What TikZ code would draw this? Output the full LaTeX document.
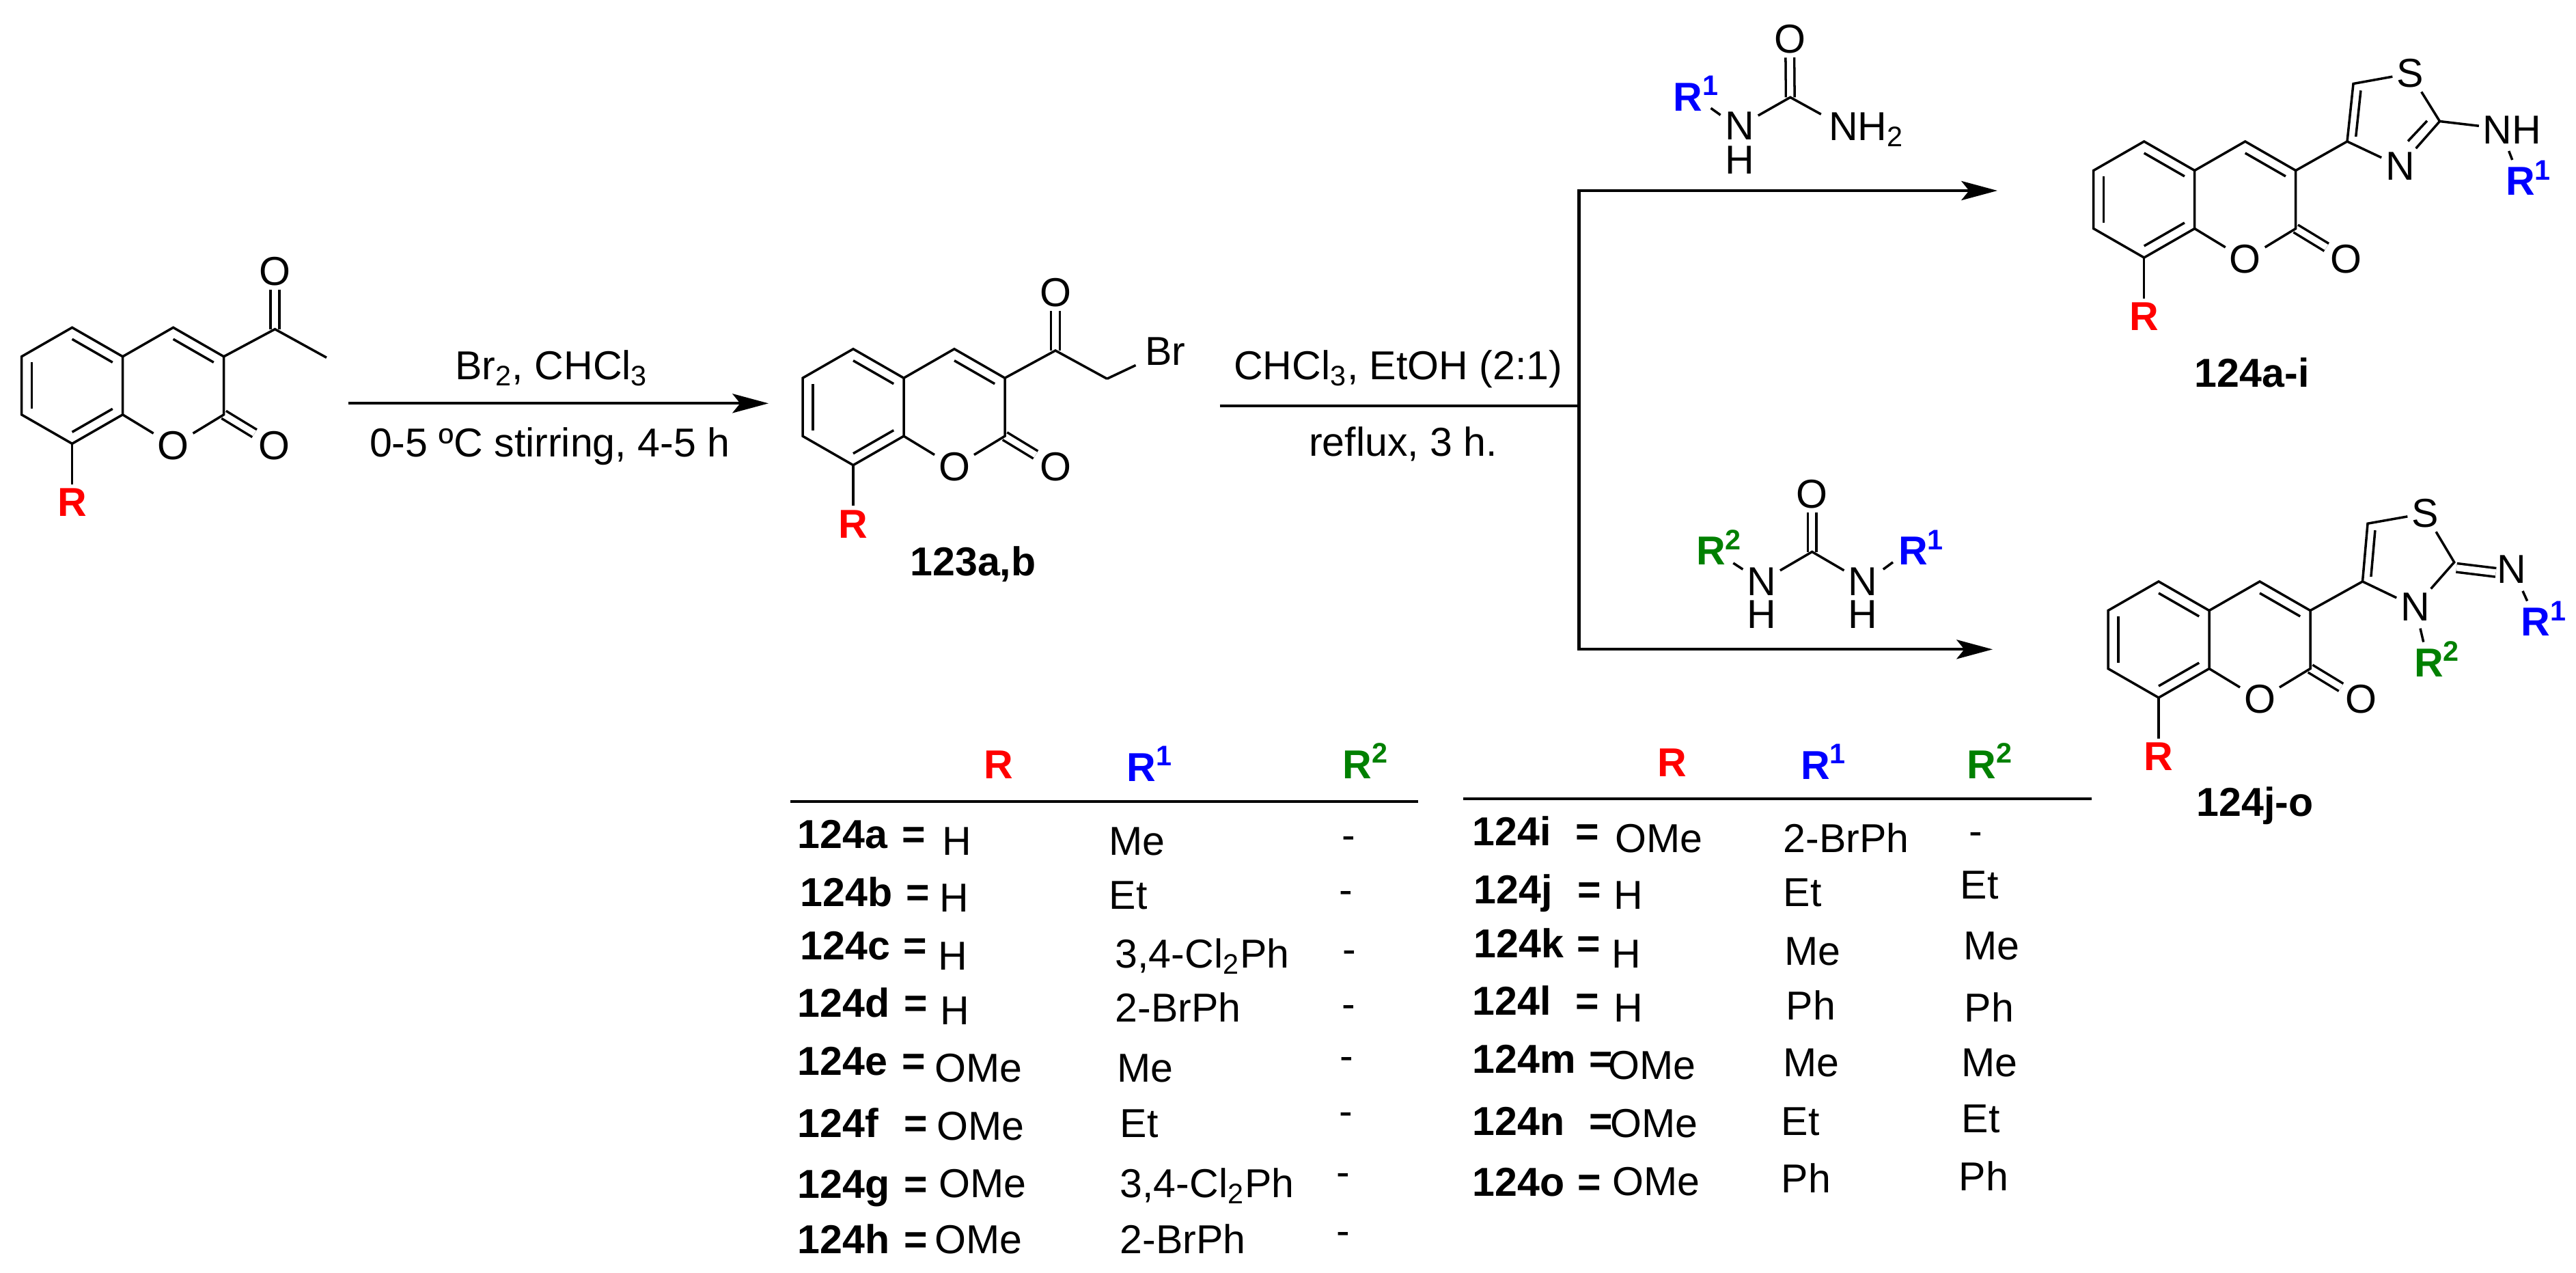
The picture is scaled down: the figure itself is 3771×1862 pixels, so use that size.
\documentclass[tikz,border=0pt]{standalone}
\usepackage{fontspec}
\setmainfont{Liberation Sans}
\usetikzlibrary{arrows.meta,calc}

\newcommand{\bigtxt}{\fontsize{16.8}{20}\selectfont}
\newcommand{\clph}{3,4-Cl\textsubscript{2}Ph}

\tikzset{
  bond/.style={line width=1pt},
  dbl/.style={line width=1pt,double,double distance=2.6pt},
  rxn/.style={line width=1.2pt},
  atom/.style={inner sep=1.5pt,font=\bigtxt},
  lbl/.style={inner sep=0pt,anchor=base,font=\bigtxt},
  tabval/.style={inner sep=0pt,anchor=base west,font=\bigtxt}
}

\newcommand{\innerbond}[3]{\draw[bond] ($(#1)!.2!(#3)$) -- ($(#2)!.2!(#3)$);}

% prefix, x, y
\newcommand{\coumarin}[3]{
  \begin{scope}[shift={(#2,#3)}]
    \coordinate (#1a) at (0,0);
    \coordinate (#1b) at (-74,42.5);
    \coordinate (#1c) at (-74,127.5);
    \coordinate (#1d) at (0,170);
    \coordinate (#1e) at (74,127.5);
    \coordinate (#1f) at (74,42.5);
    \coordinate (#1g) at (148,0);
    \coordinate (#1h) at (222,42.5);
    \coordinate (#1i) at (222,127.5);
    \coordinate (#1m) at (0,85);
    \coordinate (#1n) at (148,85);
    \node[atom] (#1O) at (148,172.5) {O};
    \node[atom] (#1P) at (296,172.5) {O};
    \node[atom,text=red] (#1R) at (0,256) {\textbf{R}};
  \end{scope}
  \draw[dbl] (#1i) -- (#1P);
  \draw[bond] (#1a) -- (#1b) -- (#1c) -- (#1d) -- (#1e) -- (#1f) -- cycle;
  \draw[bond] (#1f) -- (#1g) -- (#1h) -- (#1i) -- (#1O) -- (#1e);
  \draw[bond] (#1d) -- (#1R);
  \innerbond{#1a}{#1f}{#1m}
  \innerbond{#1b}{#1c}{#1m}
  \innerbond{#1d}{#1e}{#1m}
  \innerbond{#1g}{#1h}{#1n}
}

\begin{document}
\begin{tikzpicture}[x=0.01cm,y=-0.01cm,>={Stealth[length=15pt,width=8pt,inset=3.2pt]}]
\useasboundingbox (0,0) rectangle (3771,1862);

% starting material
\coumarin{s}{105.6}{479.3}
\coordinate (sC) at (402.5,481.7);
\coordinate (sMe) at (478,523.3);
\node[atom] (sO2) at (402.5,396.7) {O};
\draw[dbl] (sO2) -- (sC);
\draw[bond] (sh) -- (sC) -- (sMe);

% bromide
\coumarin{b}{1249}{510.7}
\coordinate (bC) at (1545,513);
\coordinate (bCH) at (1620.6,554.3);
\node[atom] (bO2) at (1545,428) {O};
\node[atom] (bBr) at (1706,514) {Br};
\draw[dbl] (bO2) -- (bC);
\draw[bond] (bh) -- (bC) -- (bCH);
\draw[bond,shorten >=2.5pt] (bCH) -- (bBr);
\node[lbl,font=\bigtxt\bfseries] (lab123) at (1424.5,842.7) {123a,b};

% arrows
\coordinate (a1s) at (509.7,590.3);
\coordinate (a1e) at (1125,590.3);
\draw[rxn,->] (a1s) -- (a1e);
\node[lbl] (c1) at (807.4,555) {Br\textsubscript{2}, CHCl\textsubscript{3}};
\node[lbl] (c2) at (804.7,668.3) {0-5 ºC stirring, 4-5 h};

\coordinate (a2s) at (1785.6,594);
\coordinate (bm) at (2311.5,594);
\coordinate (bt) at (2311.5,279);
\coordinate (bb) at (2311.5,950.3);
\coordinate (tA) at (2924,279);
\coordinate (tB) at (2917,950.3);
\draw[rxn] (a2s) -- (bm);
\draw[rxn,<->] (tA) -- (bt) -- (bb) -- (tB);
\node[lbl] (c3) at (2046.7,555) {CHCl\textsubscript{3}, EtOH (2:1)};
\node[lbl] (c4) at (2054,667.3) {reflux, 3 h.};

% thiourea
\coordinate (uC) at (2620.8,142.4);
\coordinate (uR) at (2504.5,158.3);
\coordinate (uRN) at (2518.6,168.3);
\coordinate (uNt) at (2665.8,167.2);
\node[atom] (uO) at (2620,57.3) {O};
\node[atom] (uN) at (2546.4,184.6) {N};
\node[atom,inner sep=0pt] (uH) at (2546.4,234) {H};
\node[atom,anchor=base west] (uNH) at (2671,205.3) {NH\textsubscript{2}};
\node[atom,anchor=base,text=blue] (uR1) at (2483.5,162) {\textbf{R\textsuperscript{1}}};
\draw[dbl] (uO) -- (uC);
\draw[bond] (uN) -- (uC) -- (uNt);
\draw[bond] (uR) -- (uRN);

% disubstituted thiourea
\coordinate (vC) at (2652.7,807.5);
\coordinate (vRa) at (2537.3,824);
\coordinate (vRb) at (2551.4,833.2);
\coordinate (vSa) at (2771,822.8);
\coordinate (vSb) at (2756.8,833.2);
\node[atom] (vO) at (2652.7,723.3) {O};
\node[atom] (vN) at (2578.6,850.8) {N};
\node[atom,inner sep=0pt] (vH) at (2578.6,899.4) {H};
\node[atom] (vM) at (2726.8,850.8) {N};
\node[atom,inner sep=0pt] (vI) at (2726.8,899.4) {H};
\node[atom,anchor=base,text=green!50!black] (vR2) at (2517,826.7) {\textbf{R\textsuperscript{2}}};
\node[atom,anchor=base,text=blue] (vR1) at (2812.7,826.7) {\textbf{R\textsuperscript{1}}};
\draw[dbl] (vO) -- (vC);
\draw[bond] (vN) -- (vC) -- (vM);
\draw[bond] (vRa) -- (vRb);
\draw[bond] (vSa) -- (vSb);

% 124a-i
\coumarin{p}{3138.7}{207}
\coordinate (p4) at (3436,207);
\coordinate (p5) at (3445,122.5);
\coordinate (p2) at (3571.5,177.5);
\coordinate (pc) at (3499.6,172);
\coordinate (pd) at (3553,176.8);
\coordinate (pe) at (3525,206.6);
\coordinate (pRa) at (3672.7,221);
\coordinate (pRb) at (3677.7,234);
\node[atom] (pS) at (3528,107.5) {S};
\node[atom] (pN) at (3513.5,243.5) {N};
\node[atom] (pNH) at (3677.5,190) {NH};
\node[atom,anchor=base,text=blue] (pR1) at (3702,285.6) {\textbf{R\textsuperscript{1}}};
\draw[bond] (ph) -- (p4) -- (p5) -- (pS) -- (p2) -- (pN) -- (p4);
\draw[bond] (p2) -- (pNH);
\draw[bond] (pRa) -- (pRb);
\draw[bond] (pd) -- (pe);
\innerbond{p4}{p5}{pc}
\node[lbl,font=\bigtxt\bfseries] (lab124p) at (3296.7,566) {124a-i};

% 124j-o
\coumarin{q}{3160}{851}
\coordinate (q4) at (3458.5,851);
\coordinate (q5) at (3466,766.2);
\coordinate (q2) at (3592.7,822.8);
\coordinate (qc) at (3520.5,815.8);
\coordinate (qd) at (3596,830.8);
\coordinate (qe) at (3653.6,837.8);
\coordinate (qRa) at (3693,864.9);
\coordinate (qRb) at (3699.6,879.5);
\coordinate (qSa) at (3543,919.6);
\coordinate (qSb) at (3547.7,939.6);
\node[atom] (qS) at (3550,751.3) {S};
\node[atom] (qN) at (3535.5,887.9) {N};
\node[atom] (qM) at (3677,833.5) {N};
\node[atom,anchor=base,text=blue] (qR1) at (3724.5,930.8) {\textbf{R\textsuperscript{1}}};
\node[atom,anchor=base,text=green!50!black] (qR2) at (3568,990) {\textbf{R\textsuperscript{2}}};
\draw[dbl] (qd) -- (qe);
\draw[bond] (qh) -- (q4) -- (q5) -- (qS) -- (q2) -- (qN) -- (q4);
\draw[bond] (qRa) -- (qRb);
\draw[bond] (qSa) -- (qSb);
\innerbond{q4}{q5}{qc}
\node[lbl,font=\bigtxt\bfseries] (lab124q) at (3301,1194) {124j-o};

% table heads
\coordinate (la) at (1156.8,1172.7);
\coordinate (lb) at (2075.8,1172.7);
\coordinate (ra) at (2142,1169);
\coordinate (rb) at (3061.7,1169);
\draw[rxn] (la) -- (lb);
\draw[rxn] (ra) -- (rb);
\node[tabval,text=red] (hA) at (1440,1139) {\textbf{R}};
\node[tabval,text=blue] (hB) at (1649,1143) {\textbf{R\textsuperscript{1}}};
\node[tabval,text=green!50!black] (hC) at (1965,1139) {\textbf{R\textsuperscript{2}}};
\node[tabval,text=red] (hD) at (2426,1136) {\textbf{R}};
\node[tabval,text=blue] (hE) at (2635.5,1140) {\textbf{R\textsuperscript{1}}};
\node[tabval,text=green!50!black] (hF) at (2879,1139) {\textbf{R\textsuperscript{2}}};

% table rows
\foreach \lab/\lx/\ly/\ex/\rv/\rx/\ry/\sv/\sx/\sy/\tv/\tx/\ty in {
  124a/1167/1241/1320/H/1379/1251/Me/1623/1251/-/1964/1242,
  124b/1171/1326/1326/H/1375/1334/Et/1623/1330/-/1960/1322,
  124c/1171/1404/1322/H/1373/1419/\clph/1632/1416/-/1965/1409,
  124d/1167/1488/1323/H/1376/1499/2-BrPh/1632/1495/-/1964/1489,
  124e/1167/1573/1320/OMe/1368/1583/Me/1635/1583/-/1961/1565,
  124f/1167/1664/1323/OMe/1371/1668/Et/1639/1664/-/1960/1646,
  124g/1167/1753/1323/OMe/1374/1752/\clph/1639/1752/-/1956/1735,
  124h/1167/1834/1323/OMe/1368/1834/2-BrPh/1639/1834/-/1956/1821,
  124i/2155/1237/2306/OMe/2364/1247/2-BrPh/2610/1247/-/2882/1236,
  124j/2157/1322/2309/H/2362/1330/Et/2610/1326/Et/2869/1315,
  124k/2157/1401/2308/H/2359/1416/Me/2612/1412/Me/2874/1404,
  124l/2155/1485/2306/H/2362/1495/Ph/2614/1492/Ph/2875/1495,
  124m/2155/1570/2326/OMe/2354/1579/Me/2610/1575/Me/2871/1575,
  124n/2155/1661/2326/OMe/2357/1664/Et/2607/1661/Et/2871/1657,
  124o/2155/1750/2309/OMe/2360/1749/Ph/2607/1745/Ph/2867/1742}{
  \node[tabval,font=\bigtxt\bfseries] (n\lab) at (\lx,\ly) {\lab};
  \node[tabval,font=\bigtxt\bfseries] (e\lab) at (\ex,\ly) {=};
  \node[tabval] (r\lab) at (\rx,\ry) {\rv};
  \node[tabval] (s\lab) at (\sx,\sy) {\sv};
  \node[tabval] (t\lab) at (\tx,\ty) {\tv};
}
\end{tikzpicture}
\end{document}
